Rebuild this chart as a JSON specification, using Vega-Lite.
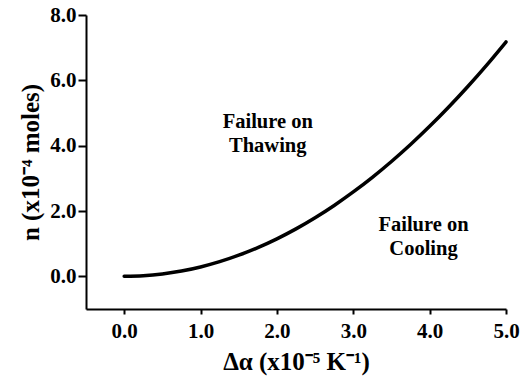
{
  "$schema": "https://vega.github.io/schema/vega-lite/v6.json",
  "autosize": "none",
  "width": 420,
  "height": 294,
  "padding": {"left": 86, "top": 15, "right": 24, "bottom": 69},
  "background": "white",
  "config": {
    "view": {"stroke": null},
    "font": "Liberation Serif"
  },
  "datasets": {
    "curve": [
      {"da": 0.0, "n": 0.0}, {"da": 0.25, "n": 0.018}, {"da": 0.5, "n": 0.072}, {"da": 0.75, "n": 0.161},
      {"da": 1.0, "n": 0.287}, {"da": 1.25, "n": 0.448}, {"da": 1.5, "n": 0.646}, {"da": 1.75, "n": 0.879},
      {"da": 2.0, "n": 1.148}, {"da": 2.25, "n": 1.453}, {"da": 2.5, "n": 1.794}, {"da": 2.75, "n": 2.17},
      {"da": 3.0, "n": 2.583}, {"da": 3.25, "n": 3.031}, {"da": 3.5, "n": 3.516}, {"da": 3.75, "n": 4.036},
      {"da": 4.0, "n": 4.592}, {"da": 4.25, "n": 5.184}, {"da": 4.5, "n": 5.812}, {"da": 4.75, "n": 6.475},
      {"da": 5.0, "n": 7.175}
    ],
    "labels": [
      {"da": 1.88, "n": 4.72, "text": "Failure on"},
      {"da": 1.88, "n": 4.0, "text": "Thawing"},
      {"da": 3.92, "n": 1.56, "text": "Failure on"},
      {"da": 3.92, "n": 0.84, "text": "Cooling"}
    ]
  },
  "layer": [
    {
      "data": {"name": "curve"},
      "mark": {"type": "line", "color": "black", "strokeWidth": 3.5, "strokeCap": "round", "interpolate": "monotone"},
      "encoding": {
        "x": {
          "field": "da", "type": "quantitative",
          "scale": {"domain": [-0.5, 5.0], "nice": false, "zero": false},
          "axis": {
            "values": [0, 1, 2, 3, 4, 5], "format": ".1f", "grid": false,
            "title": "Δα (x10⁻⁵ K⁻¹)",
            "titleFont": "Liberation Serif", "titleFontSize": 25, "titleFontWeight": "bold", "titleColor": "black",
            "titlePadding": 8,
            "labelFont": "Liberation Serif", "labelFontSize": 21, "labelFontWeight": "bold", "labelColor": "black",
            "labelPadding": 6, "labelFlush": false,
            "domainColor": "black", "domainWidth": 2, "tickColor": "black", "tickWidth": 2, "tickSize": 5
          }
        },
        "y": {
          "field": "n", "type": "quantitative",
          "scale": {"domain": [-1, 8], "nice": false, "zero": false},
          "axis": {
            "values": [0, 2, 4, 6, 8], "format": ".1f", "grid": false,
            "title": "n (x10⁻⁴ moles)",
            "titleFont": "Liberation Serif", "titleFontSize": 25, "titleFontWeight": "bold", "titleColor": "black",
            "titlePadding": 6,
            "labelFont": "Liberation Serif", "labelFontSize": 21, "labelFontWeight": "bold", "labelColor": "black",
            "labelPadding": 2, "labelFlush": false,
            "domainColor": "black", "domainWidth": 2, "tickColor": "black", "tickWidth": 2, "tickSize": 8
          }
        }
      }
    },
    {
      "data": {"name": "labels"},
      "mark": {"type": "text", "font": "Liberation Serif", "fontSize": 20.5, "fontWeight": "bold", "color": "black", "align": "center", "baseline": "middle"},
      "encoding": {
        "x": {"field": "da", "type": "quantitative"},
        "y": {"field": "n", "type": "quantitative"},
        "text": {"field": "text"}
      }
    }
  ]
}
